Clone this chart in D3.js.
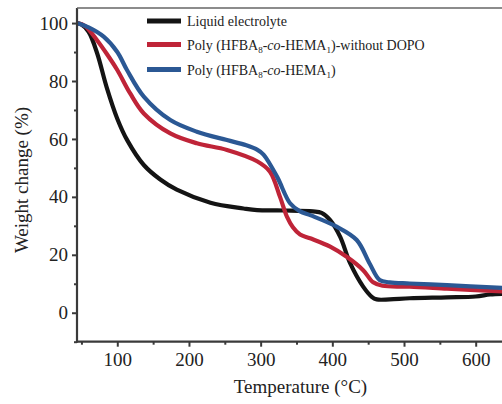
<!DOCTYPE html>
<html><head><meta charset="utf-8">
<script src="https://cdn.jsdelivr.net/npm/d3@7"></script>
<style>
body{margin:0;background:#fff;}
svg{display:block;font-family:"Liberation Serif","DejaVu Serif",serif;}
</style></head>
<body><svg id="c" width="502" height="404"></svg>
<script>
const liquidT = [44,50,60,72,85,100,114,137,160,183,230,276,295,332,373,385,397,411,425,443,455,462,480,508,560,600,620,637];
const liquidW = [100,99.5,97,89.5,78,67,59.5,51,46,42.5,38,36,35.4,35.3,35.0,34.5,32,26.2,17,9,5.5,4.6,4.6,5.0,5.3,5.6,6.3,6.5];
const noDopoT = [44,55,72,85,100,118,137,174,211,253,295,313,327,337,345,355,369,397,420,443,457,470,508,560,600,637];
const noDopoW = [100,99,94,89.5,83.8,75.7,68.8,61.9,58.5,56.2,52.3,48.7,40,33,29.5,27,25.7,22.8,19.3,14.7,10.5,9.3,9,8.3,7.8,7.4];
const polyT = [44,60,81,100,113.5,137,174,211,253,280,295,304,323,341,355,370,406,434,452,466,480,508,560,600,637];
const polyW = [100,98.5,95.3,90,83.8,74.6,66.5,62.5,59.6,57.8,56.3,54.6,46.9,37.8,35,33.6,29.7,25.1,17,11.3,10.5,10.1,9.5,9.0,8.6];
const xTicks = [100,200,300,400,500,600];
const xMinor = [50,150,250,350,450,550,650];
const yTicks = [0,20,40,60,80,100];
const yMinor = [-10,10,30,50,70,90];

const svg = d3.select("#c");
const L=77,R=502,T=8,B=341.7;
const x = d3.scaleLinear().domain([43.8,636.7]).range([L,R]);
const y = d3.scaleLinear().domain([-10,105.2]).range([B,T]);

svg.append("clipPath").attr("id","clip").append("rect").attr("x",L).attr("y",T).attr("width",R-L).attr("height",B-T);

const series = [
  {name:"liquid", t:liquidT, w:liquidW, color:"#141414"},
  {name:"nodopo", t:noDopoT, w:noDopoW, color:"#bf2438"},
  {name:"poly", t:polyT, w:polyW, color:"#2b5894"}
];
const line = d3.line().x(d=>x(d[0])).y(d=>y(d[1])).curve(d3.curveCatmullRom.alpha(0.5));
const g = svg.append("g").attr("clip-path","url(#clip)");
series.forEach(s=>{
  g.append("path").datum(s.t.map((t,i)=>[t,s.w[i]]))
   .attr("d",line).attr("fill","none").attr("stroke",s.color).attr("stroke-width",4.2)
   .attr("stroke-linejoin","round").attr("stroke-linecap","round");
});

// axes
const axisColor="#3a3a3a";
const yAx = svg.append("g").attr("transform",`translate(${L},0)`)
  .call(d3.axisLeft(y).tickValues(yTicks).tickSize(5).tickPadding(4).tickFormat(d3.format("d")));
yAx.select(".domain").remove();
const yMin = svg.append("g").attr("transform",`translate(${L},0)`)
  .call(d3.axisLeft(y).tickValues(yMinor).tickSize(3).tickFormat(""));
yMin.select(".domain").remove();
const xAx = svg.append("g").attr("transform",`translate(0,${B})`)
  .call(d3.axisBottom(x).tickValues(xTicks).tickSize(5).tickPadding(6).tickFormat(d3.format("d")));
xAx.select(".domain").remove();
const xMin = svg.append("g").attr("transform",`translate(0,${B})`)
  .call(d3.axisBottom(x).tickValues(xMinor).tickSize(3).tickFormat(""));
xMin.select(".domain").remove();
svg.selectAll(".tick line").attr("stroke",axisColor).attr("stroke-width",2);
svg.selectAll(".tick text").attr("font-family","Liberation Serif").attr("font-size",19).attr("fill","#222");

svg.append("line").attr("x1",L).attr("x2",L).attr("y1",T).attr("y2",B+1).attr("stroke",axisColor).attr("stroke-width",2.2);
svg.append("line").attr("x1",L-1).attr("x2",R).attr("y1",B).attr("y2",B).attr("stroke",axisColor).attr("stroke-width",2.2);
svg.append("line").attr("x1",L).attr("x2",R).attr("y1",T).attr("y2",T).attr("stroke","#666").attr("stroke-width",1.5);

svg.append("text").attr("x",(L+R)/2+11).attr("y",393).attr("text-anchor","middle")
  .attr("font-size",19).attr("fill","#222").text("Temperature (°C)");
svg.append("text").attr("transform","translate(28,180) rotate(-90)").attr("text-anchor","middle")
  .attr("font-size",19).attr("fill","#222").text("Weight change (%)");

// legend
const legRows = [21,44.5,69.5];
const lg = svg.append("g");
series.forEach((s,i)=>{
  lg.append("line").attr("x1",147).attr("x2",181).attr("y1",legRows[i]).attr("y2",legRows[i])
    .attr("stroke",s.color).attr("stroke-width",5);
});
const fs=14;
lg.append("text").attr("x",187).attr("y",legRows[0]+5).attr("font-size",fs).attr("fill","#222").text("Liquid electrolyte");
function polyLabel(yy, suffix){
  const t = lg.append("text").attr("x",187).attr("y",yy+5).attr("font-size",fs).attr("fill","#222");
  t.append("tspan").text("Poly (HFBA");
  t.append("tspan").attr("font-size",9).attr("dy",3).text("8");
  t.append("tspan").attr("dy",-3).text("-");
  t.append("tspan").attr("font-style","italic").text("co");
  t.append("tspan").text("-HEMA");
  t.append("tspan").attr("font-size",9).attr("dy",3).text("1");
  t.append("tspan").attr("dy",-3).text(suffix);
}
polyLabel(legRows[1], ")-without DOPO");
polyLabel(legRows[2], ")");
</script></body></html>
